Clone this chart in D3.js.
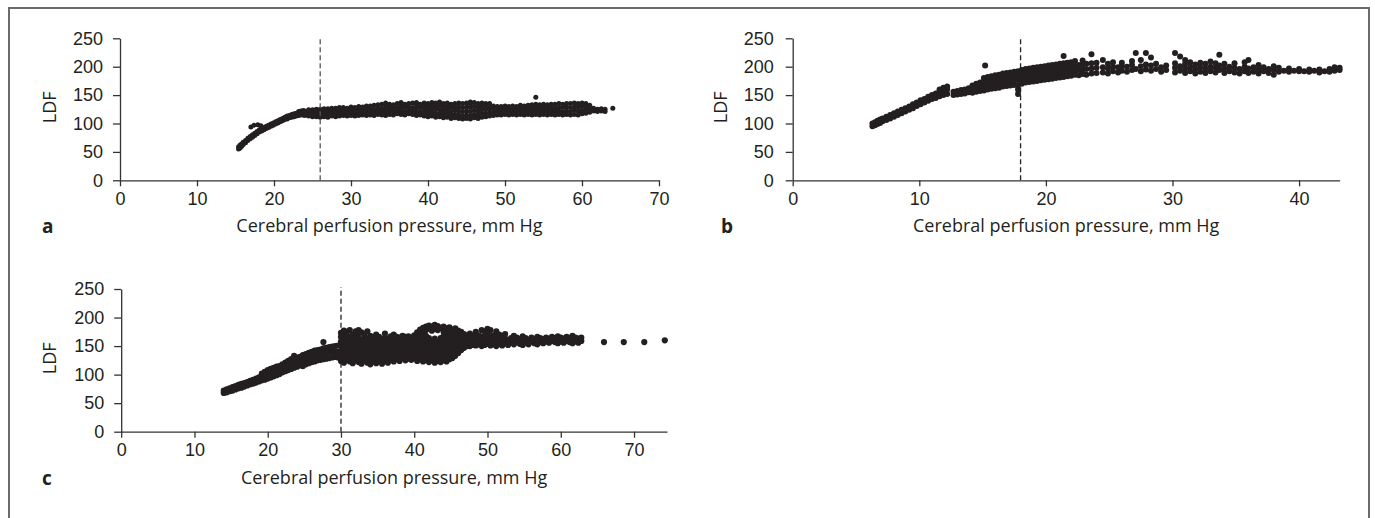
<!DOCTYPE html>
<html>
<head>
<meta charset="utf-8">
<script src="https://cdn.jsdelivr.net/npm/d3@7"></script>
<style>
  body { margin: 0; background: #fff; }
  svg { display: block; font-family: "Open Sans", sans-serif; }
  .tick text { font-size: 18px; fill: #231f20; }
  .tick line, .domain { stroke: #333; stroke-width: 1.3; }
  .axis-title { font-size: 18px; fill: #231f20; }
  .panel-letter { font-size: 19px; font-weight: bold; fill: #231f20; }
</style>
</head>
<body>
<svg id="chart" width="1375" height="518"></svg>
<script>
// ticks
const yTicks = [0, 50, 100, 150, 200, 250];
const xTicksA = [0, 10, 20, 30, 40, 50, 60, 70];
const xTicksB = [0, 10, 20, 30, 40];
const xTicksC = [0, 10, 20, 30, 40, 50, 60, 70];

// autoregulation break points (dashed lines), mm Hg
const breakA = 26;
const breakB = 18;
const breakC = 30;

// LDF readings, one row per CPP value: [cpp, ldf, ldf, ...]
const colsA = [
  [15.4, 55, 59], [15.6, 57, 62], [15.8, 60, 64], [16.0, 63, 67], [16.3, 66, 70],
  [16.6, 70, 74], [16.9, 73, 77], [17.2, 76, 80], [17.5, 79, 83], [17.8, 82, 86],
  [18.1, 85, 89], [18.4, 87, 91], [18.7, 89, 93], [19.0, 91, 95], [19.3, 93, 97],
  [19.6, 95, 99], [19.9, 97, 101], [20.2, 99, 103], [20.5, 101, 105], [20.8, 103, 107],
  [21.1, 105, 109], [21.4, 107, 111], [21.7, 108, 113], [22.0, 110, 114], [22.3, 111, 116],
  [22.6, 112, 117], [22.9, 113, 118], [23.2, 114, 119, 121], [23.5, 115, 120, 122], [23.8, 115, 119, 123],
  [17.0, 94], [17.4, 97], [17.9, 98], [18.3, 96],
  [24.0, 114, 118, 122], [24.5, 113, 117, 121, 124], [25.0, 112, 116, 120, 124], [25.5, 112, 117, 121, 125],
  [26.0, 111, 115, 120, 125], [26.5, 112, 116, 121, 126], [27.0, 111, 117, 122, 126], [27.5, 113, 118, 123, 127],
  [28.0, 112, 117, 121, 127], [28.5, 113, 118, 123, 128], [29.0, 114, 119, 124, 128], [29.5, 113, 118, 122, 127],
  [30.0, 114, 119, 124, 129], [30.5, 113, 118, 123, 128], [31.0, 114, 120, 125, 130], [31.5, 115, 119, 124, 129],
  [32.0, 114, 119, 125, 131], [32.5, 115, 120, 126, 131], [33.0, 114, 120, 125, 132], [33.5, 116, 121, 127, 133],
  [34.0, 115, 121, 127, 134], [34.5, 114, 120, 126, 132, 136], [35.0, 116, 122, 128, 134], [35.5, 115, 121, 127, 133],
  [36.0, 117, 122, 128, 135], [36.5, 116, 121, 127, 133, 137], [37.0, 115, 121, 128, 134], [37.5, 117, 123, 129, 135],
  [38.0, 116, 122, 128, 136], [38.5, 114, 120, 127, 133, 137], [39.0, 115, 121, 128, 134], [39.5, 113, 119, 126, 132, 136],
  [40.0, 112, 118, 124, 130, 135], [40.5, 113, 119, 125, 131, 137], [41.0, 111, 117, 124, 130, 136], [41.5, 112, 118, 125, 132, 138],
  [42.0, 110, 116, 122, 129, 135], [42.5, 111, 117, 124, 130, 136], [43.0, 109, 115, 121, 128, 134], [43.5, 110, 116, 123, 129, 135],
  [44.0, 109, 115, 122, 129, 136], [44.5, 108, 114, 121, 128, 135], [45.0, 109, 115, 122, 129, 136], [45.5, 108, 114, 121, 128, 134, 138],
  [46.0, 110, 116, 123, 130, 137], [46.5, 109, 115, 122, 129, 135], [47.0, 111, 117, 124, 131, 136], [47.5, 112, 118, 125, 131, 135],
  [48.0, 113, 119, 125, 130, 135], [48.5, 114, 120, 126, 131], [49.0, 115, 120, 125, 130], [49.5, 115, 120, 126, 130],
  [50.0, 116, 121, 126, 131], [50.5, 115, 120, 125, 130], [51.0, 116, 121, 126, 131], [51.5, 115, 121, 126, 130],
  [52.0, 116, 121, 127, 132], [52.5, 115, 120, 126, 131], [53.0, 116, 122, 127, 132], [53.5, 115, 121, 127, 133],
  [54.0, 116, 122, 128, 134, 146], [54.5, 115, 121, 127, 133], [55.0, 116, 122, 128, 134], [55.5, 115, 121, 127, 133],
  [56.0, 116, 122, 128, 134], [56.5, 115, 121, 127, 134], [57.0, 116, 122, 128, 135], [57.5, 115, 121, 128, 134],
  [58.0, 116, 122, 129, 135], [58.5, 115, 121, 128, 135], [59.0, 116, 123, 129, 136], [59.5, 115, 122, 129, 135],
  [60.0, 117, 123, 130, 136], [60.5, 118, 124, 130, 135], [61.0, 120, 126, 132], [61.5, 122, 127],
  [62.0, 121, 125], [62.5, 122, 126], [63.0, 121, 125], [64.0, 127]
];

const colsB = [
  [6.3, 95, 100], [6.5, 97, 102], [6.7, 99, 105], [6.9, 101, 107], [7.1, 104, 109],
  [7.4, 106, 112], [7.7, 109, 115], [8.0, 112, 118], [8.3, 115, 121], [8.6, 118, 124],
  [8.9, 121, 127], [9.2, 124, 130], [9.5, 127, 134], [9.8, 131, 137], [10.1, 134, 141],
  [10.4, 137, 143], [10.7, 140, 147], [11.0, 143, 150], [11.3, 145, 153], [11.6, 148, 156, 160],
  [11.9, 150, 158, 163], [12.2, 152, 160, 165],
  [12.7, 150, 156], [13.0, 151, 157], [13.3, 152, 159], [13.6, 153, 160], [13.9, 155, 162],
  [14.2, 154, 161, 167], [14.5, 156, 163, 170], [14.8, 157, 165, 172], [15.1, 158, 166, 174, 180],
  [15.2, 202],
  [15.4, 160, 168, 176, 182], [15.7, 161, 169, 177, 183], [16.0, 162, 170, 178, 185], [16.3, 163, 171, 179, 186],
  [16.6, 165, 172, 180, 188], [16.9, 166, 174, 182, 189], [17.2, 167, 175, 183, 190], [17.5, 168, 176, 184, 191],
  [17.8, 152, 160, 168, 177, 185, 192], [18.1, 170, 178, 186, 194], [18.4, 172, 180, 188, 196], [18.7, 173, 181, 189, 197],
  [19.0, 174, 182, 190, 198], [19.3, 175, 183, 191, 199], [19.6, 176, 184, 192, 200], [19.9, 177, 185, 193, 201],
  [20.2, 178, 186, 194, 202], [20.5, 179, 187, 195, 203], [20.8, 180, 188, 196, 204], [21.1, 181, 189, 197, 205],
  [21.4, 182, 190, 198, 206, 219], [21.7, 183, 191, 199, 207], [22.0, 184, 192, 200, 208], [22.3, 186, 193, 201, 210],
  [22.6, 185, 194, 203], [22.9, 187, 195, 204, 211], [23.2, 186, 196, 205], [23.6, 188, 197, 206, 222],
  [24.0, 189, 198, 207], [24.5, 190, 199, 212], [24.9, 188, 197, 205], [25.3, 192, 200, 208],
  [25.7, 190, 199], [26.0, 193, 201, 207], [26.4, 191, 200], [26.8, 194, 203, 210],
  [27.1, 196, 224], [27.5, 192, 201, 212], [27.9, 195, 204, 224], [28.3, 193, 202, 216],
  [28.7, 196, 205], [29.1, 191, 199], [29.5, 194, 202], [30.2, 190, 198, 206, 224],
  [30.6, 193, 201, 218], [31.0, 189, 197, 205, 212], [31.4, 192, 200, 208], [31.8, 188, 196, 204],
  [32.2, 191, 199, 207], [32.6, 189, 197, 205], [33.0, 192, 200, 209], [33.4, 190, 198, 206],
  [33.7, 194, 202, 221], [34.1, 189, 197, 205], [34.5, 192, 200], [34.9, 190, 198, 206],
  [35.3, 188, 196], [35.7, 192, 200, 208], [36.0, 189, 197, 212], [36.4, 191, 199],
  [36.8, 188, 195, 203], [37.2, 192, 199], [37.6, 189, 196], [38.0, 186, 194, 201],
  [38.4, 191, 198], [38.8, 193], [39.2, 191, 197], [39.6, 193], [40.0, 192, 196],
  [40.4, 192], [40.8, 191, 195], [41.2, 193], [41.6, 190, 195], [42.0, 192],
  [42.4, 191, 196], [42.8, 193, 199], [43.2, 194, 198]
];

const colsC = [
  [14.0, 68, 72], [14.4, 69, 74], [14.8, 71, 76], [15.2, 72, 78], [15.6, 74, 80],
  [16.0, 76, 82], [16.4, 77, 84], [16.8, 79, 85], [17.2, 81, 87], [17.6, 83, 89],
  [18.0, 84, 91], [18.4, 86, 93], [18.8, 88, 95], [19.2, 90, 97, 102], [19.6, 91, 99, 105],
  [20.0, 93, 101, 108], [20.4, 95, 103, 110], [20.8, 97, 105, 112], [21.2, 99, 107, 114], [21.6, 101, 109, 115],
  [22.0, 104, 111, 118], [22.4, 106, 113, 121], [22.8, 108, 116, 124], [23.2, 110, 118, 127], [23.6, 112, 120, 128, 133],
  [24.0, 114, 122, 130], [24.4, 116, 124, 131], [24.8, 115, 125, 134], [25.2, 118, 127, 136], [25.6, 120, 129, 138],
  [26.0, 122, 131, 140], [26.4, 123, 132, 142], [26.8, 125, 134, 143], [27.2, 126, 135, 144], [27.6, 127, 137, 146, 157],
  [28.0, 128, 138, 147], [28.4, 129, 139, 148], [28.8, 130, 140, 149], [29.2, 131, 141, 150], [29.6, 130, 140, 151],
  [30.0, 124, 133, 141, 150, 158, 166, 173], [30.4, 121, 129, 138, 147, 155, 163, 171, 177],
  [30.8, 126, 134, 143, 151, 160, 169, 175], [31.2, 123, 131, 140, 148, 157, 165, 178],
  [31.6, 120, 128, 137, 146, 154, 162, 170], [32.0, 125, 134, 142, 151, 159, 168, 176],
  [32.4, 122, 130, 139, 147, 156, 164, 172, 178], [32.8, 119, 128, 136, 145, 153, 161, 174],
  [33.2, 124, 132, 141, 149, 158, 166, 171], [33.6, 121, 130, 138, 147, 155, 163, 176],
  [34.0, 118, 127, 135, 144, 152, 160, 168], [34.4, 123, 131, 140, 148, 156, 165],
  [34.8, 120, 129, 137, 146, 154, 162, 170], [35.2, 125, 133, 142, 150, 158, 166],
  [35.6, 119, 128, 136, 145, 153, 161], [36.0, 124, 132, 141, 149, 157, 165, 172],
  [36.4, 121, 130, 138, 147, 155, 163], [36.8, 126, 134, 143, 151, 159, 167],
  [37.2, 123, 131, 140, 148, 156, 164, 170], [37.6, 127, 135, 144, 152, 160, 166],
  [38.0, 124, 133, 141, 150, 158, 165], [38.4, 129, 137, 146, 154, 162, 168],
  [38.8, 125, 134, 142, 151, 159, 166], [39.2, 128, 136, 145, 153, 161, 167],
  [39.6, 126, 135, 143, 152, 160, 165], [40.0, 129, 137, 146, 154, 162, 169],
  [40.4, 124, 133, 141, 150, 158, 166, 174], [40.8, 127, 135, 144, 152, 161, 169, 179],
  [41.2, 123, 132, 140, 149, 157, 166, 175, 182], [41.6, 126, 134, 143, 151, 160, 168, 178, 184],
  [42.0, 122, 131, 139, 148, 156, 164, 181, 186], [42.4, 125, 133, 142, 150, 159, 177, 184],
  [42.8, 121, 130, 138, 147, 155, 163, 180, 187], [43.2, 124, 132, 141, 149, 158, 178, 185],
  [43.6, 122, 131, 139, 148, 156, 164, 182], [44.0, 125, 133, 142, 150, 159, 167, 175, 184],
  [44.4, 123, 132, 140, 149, 157, 166, 174, 181], [44.8, 127, 135, 144, 152, 161, 169, 177, 183],
  [45.2, 129, 137, 146, 154, 163, 171, 179], [45.6, 133, 141, 150, 158, 166, 174, 181],
  [46.0, 138, 146, 155, 163, 171, 177], [46.4, 143, 151, 160, 168, 175],
  [46.8, 147, 155, 163, 171], [47.2, 150, 158, 166], [47.6, 150, 158, 166, 172],
  [48.0, 152, 160, 168], [48.4, 151, 159, 167, 175], [48.8, 153, 161, 169],
  [49.2, 150, 158, 166, 178], [49.6, 152, 160, 168, 176], [50.0, 154, 162, 170, 180],
  [50.4, 151, 159, 167, 178], [50.8, 153, 161, 169], [51.2, 150, 158, 166, 176],
  [51.6, 154, 162, 170], [52.0, 151, 159, 167], [52.4, 155, 163, 171], [52.8, 152, 160],
  [53.2, 156, 164], [53.6, 153, 161, 168], [54.0, 157, 165], [54.4, 154, 162],
  [54.8, 152, 160, 167], [55.2, 156, 164], [55.6, 153, 161], [56.0, 158, 165],
  [56.4, 155, 162], [56.8, 153, 160, 166], [57.2, 157, 164], [57.6, 155, 162],
  [58.0, 158, 165], [58.4, 156, 163], [58.8, 159, 166], [59.2, 157, 164],
  [59.6, 155, 162, 167], [60.0, 158, 165], [60.4, 156, 163], [60.8, 159, 166],
  [61.2, 157, 164], [61.6, 155, 162, 168], [62.0, 158, 165], [62.4, 156, 163],
  [62.8, 159, 165], [65.9, 157], [68.6, 157], [71.4, 157], [74.2, 160]
];

const svg = d3.select("#chart");

// outer frame (open at the bottom, like the cropped figure)
svg.append("path")
    .attr("d", "M9,540 V8 H1369 V540")
    .attr("fill", "none")
    .attr("stroke", "#6b6b6b")
    .attr("stroke-width", 2);

function drawPanel(p) {
    const x = d3.scaleLinear().domain([0, p.xMax]).range([p.left, p.right]);
    const y = d3.scaleLinear().domain([0, 250]).range([p.bottom, p.top]);
    const g = svg.append("g");

    const pts = p.cols.flatMap(([cpp, ...ldf]) => ldf.map(v => [cpp, v]));

    // dots
    g.append("g")
        .selectAll("circle")
        .data(pts)
        .enter()
        .append("circle")
        .attr("cx", d => x(d[0]))
        .attr("cy", d => y(d[1]))
        .attr("r", p.r)
        .attr("fill", "#231f20");

    // dashed break line
    g.append("line")
        .attr("x1", x(p.brk)).attr("x2", x(p.brk))
        .attr("y1", y(0)).attr("y2", y(253))
        .attr("stroke", p.dashColor)
        .attr("stroke-width", 1.3)
        .attr("stroke-dasharray", "5,3");

    // axes
    g.append("g")
        .attr("transform", "translate(0," + p.bottom + ")")
        .call(d3.axisBottom(x).tickValues(p.xTicks).tickSize(6).tickSizeOuter(0).tickPadding(6))
        .call(a => a.selectAll(".tick text").attr("dy", "0.71em"));

    g.append("g")
        .attr("transform", "translate(" + p.left + ",0)")
        .call(d3.axisLeft(y).tickValues(yTicks).tickSize(7).tickSizeOuter(0).tickPadding(p.yPad));

    g.selectAll(".domain").attr("fill", "none");
    g.selectAll("text").attr("font-family", null);

    // titles
    g.append("text")
        .attr("class", "axis-title")
        .attr("x", (p.left + p.right) / 2)
        .attr("y", p.bottom + 52)
        .attr("text-anchor", "middle")
        .text("Cerebral perfusion pressure, mm Hg");

    g.append("text")
        .attr("class", "axis-title")
        .attr("transform", "translate(" + p.ldfX + "," + ((p.top + p.bottom) / 2 - 2) + ") rotate(-90)")
        .attr("text-anchor", "middle")
        .text("LDF");

    g.append("text")
        .attr("class", "panel-letter")
        .attr("x", p.letterX)
        .attr("y", p.bottom + 53)
        .text(p.letter);
}

drawPanel({ cols: colsA, xMax: 70, xTicks: xTicksA, brk: breakA, letter: "a",
    left: 120, right: 659, top: 38.3, bottom: 180.3, r: 2.5, yPad: 10,
    ldfX: 56, letterX: 42, dashColor: "#555" });

drawPanel({ cols: colsB, xMax: 43.2, xTicks: xTicksB, brk: breakB, letter: "b",
    left: 792.7, right: 1339.6, top: 38.3, bottom: 180.3, r: 3, yPad: 12,
    ldfX: 727, letterX: 721, dashColor: "#222" });

drawPanel({ cols: colsC, xMax: 74.5, xTicks: xTicksC, brk: breakC, letter: "c",
    left: 121.2, right: 667, top: 289, bottom: 431.7, r: 3.1, yPad: 10,
    ldfX: 56, letterX: 42, dashColor: "#222" });
</script>
</body>
</html>
